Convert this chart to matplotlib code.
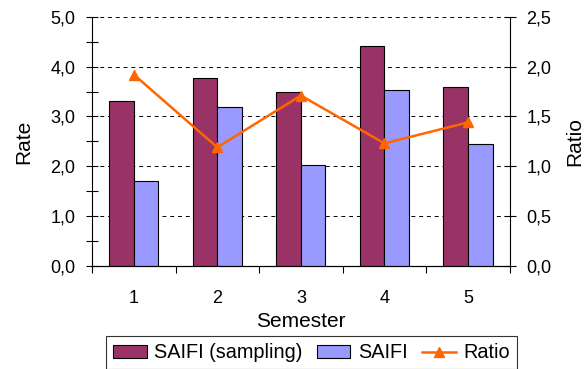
import numpy as np
import matplotlib.pyplot as plt
from matplotlib.ticker import MultipleLocator

plt.rcParams['font.family'] = ['Liberation Sans', 'DejaVu Sans']

semesters = ['1', '2', '3', '4', '5']
saifi_sampling = [3.31, 3.77, 3.49, 4.42, 3.59]
saifi = [1.70, 3.18, 2.02, 3.54, 2.45]
ratio = [1.92, 1.19, 1.71, 1.23, 1.44]

maroon, lavender, orange = '#993366', '#9999FF', '#FF6600'

def comma(v, pos=None):
    return f'{v:.1f}'.replace('.', ',')

fig = plt.figure(figsize=(5.88, 3.69), dpi=100)
ax = fig.add_axes([0.1565, 0.279, 0.7103, 0.6757])
x = np.arange(len(semesters))
w = 0.295

b1 = ax.bar(x - w / 2, saifi_sampling, w, color=maroon, edgecolor='black',
            linewidth=0.8, label='SAIFI (sampling)', zorder=3)
b2 = ax.bar(x + w / 2, saifi, w, color=lavender, edgecolor='black',
            linewidth=0.8, label='SAIFI', zorder=3)

ax.set_xlim(-0.5, 4.5)
ax.set_ylim(0, 5)
ax.yaxis.set_major_locator(MultipleLocator(1))
ax.yaxis.set_minor_locator(MultipleLocator(0.5))
ax.yaxis.set_major_formatter(comma)
ax.set_xticks(x)
ax.set_xticklabels(semesters)
ax.set_xticks(np.arange(-0.5, 5, 1), minor=True)
ax.tick_params(axis='x', which='major', length=0, labelsize=13, pad=17)
ax.tick_params(axis='x', which='minor', length=5, direction='out', width=0.8)
ax.tick_params(axis='y', which='both', length=8, direction='inout',
               width=0.8, labelsize=13, pad=8)
ax.grid(axis='y', which='major', color='black', linestyle=(0, (4, 4)),
        linewidth=0.7, zorder=0)
ax.spines['top'].set_visible(False)
ax.spines['right'].set_visible(False)
ax.set_ylabel('Rate', fontsize=15, labelpad=12)
ax.set_xlabel('Semester', fontsize=15, labelpad=4)

ax2 = ax.twinx()
l1, = ax2.plot(x, ratio, color=orange, linewidth=1.8, marker='^',
               markersize=6.5, label='Ratio', zorder=4)
ax2.set_ylim(0, 2.5)
ax2.yaxis.set_major_locator(MultipleLocator(0.5))
ax2.yaxis.set_major_formatter(comma)
ax2.tick_params(axis='y', length=8, direction='inout', width=0.8,
                labelsize=13, pad=8)
ax2.spines['top'].set_visible(False)
ax2.spines['left'].set_visible(False)
ax2.set_ylabel('Ratio', fontsize=15, labelpad=10)

leg = fig.legend(handles=[b1, b2, l1], loc='upper left',
                 bbox_to_anchor=(0.18, 0.0885), ncol=3, fontsize=14.3,
                 frameon=True, fancybox=False, edgecolor='black',
                 handlelength=1.7, handleheight=0.62, columnspacing=0.7,
                 handletextpad=0.39, borderpad=0.35, borderaxespad=0)
leg.get_frame().set_linewidth(0.8)

fig.savefig('out.png', dpi=100)
